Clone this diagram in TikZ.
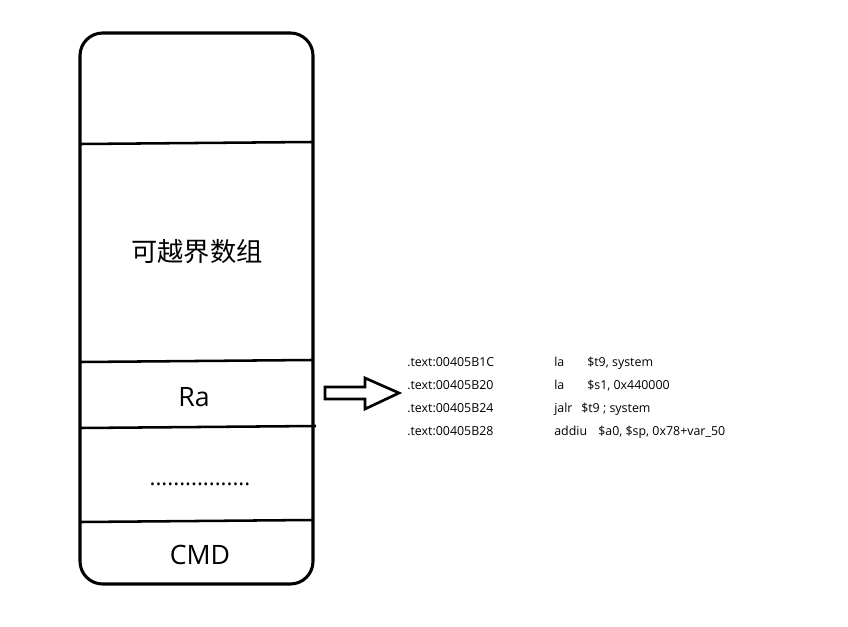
\documentclass[tikz,border=0pt]{standalone}
\usepackage{fontspec}
\setmainfont{Open Sans}
\newfontfamily\cjk{Noto Sans CJK SC}
\begin{document}
\begin{tikzpicture}[x=0.75pt,y=-0.75pt,
  frame/.style={line width=2.3pt,rounded corners=17pt},
  divider/.style={line width=1.9pt},
  biglabel/.style={font=\fontsize{20}{22}\selectfont,inner sep=0pt},
  code/.style={font=\fontsize{9.3}{11}\selectfont,anchor=base west,inner sep=0pt},
  bigarrow/.style={line width=2pt,line join=miter}]
\useasboundingbox (0,0) rectangle (848,627);
\draw[frame] (80,33) rectangle (313,584);
\draw[divider] (81,144) -- (312,142);
\draw[divider] (81,362) -- (312,360);
\draw[divider] (81,428) -- (316,426);
\draw[divider] (81,522) -- (312,520);
\node[biglabel,font=\fontsize{19.7}{22}\selectfont] (arr) at (197,252) {\cjk 可越界数组};
\node[biglabel] (ra) at (194,397) {Ra};
\node[biglabel,font=\fontsize{16.7}{18}\selectfont] (dots) at (200,484) {.................};
\node[biglabel] (cmd) at (200,555) {CMD};
\draw[bigarrow] (325,387) -- (365,387) -- (365,378) -- (399,393) -- (365,409) -- (365,399) -- (325,399) -- cycle;
\node[code] (a1) at (407,366) {.text:00405B1C};
\node[code] (a2) at (407,389) {.text:00405B20};
\node[code] (a3) at (407,412) {.text:00405B24};
\node[code] (a4) at (407,435) {.text:00405B28};
\node[code] (i1) at (554,366) {la};
\node[code] (i2) at (554,389) {la};
\node[code] (i3) at (554,412) {jalr};
\node[code] (i4) at (554,435) {addiu};
\node[code] (o1) at (587,366) {\$t9, system};
\node[code] (o2) at (587,389) {\$s1, 0x440000};
\node[code] (o3) at (581,412) {\$t9 ; system};
\node[code] (o4) at (598,435) {\$a0, \$sp, 0x78+var\_50};
\end{tikzpicture}
\end{document}
